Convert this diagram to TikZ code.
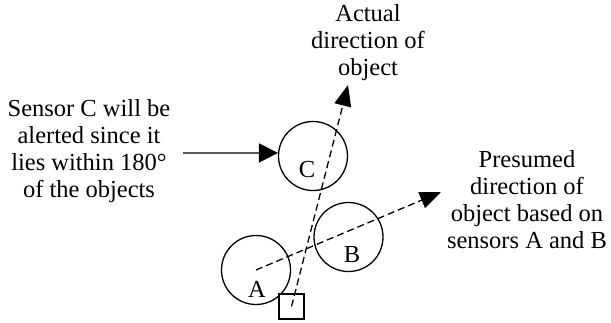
\documentclass[tikz,border=0pt]{standalone}
\usepackage{fontspec}
\setmainfont{Liberation Serif}
\usetikzlibrary{arrows.meta}
\begin{document}
\begin{tikzpicture}[x=1pt,y=-1pt,
  txt/.style={align=center,inner sep=0pt,anchor=base,font=\fontsize{24.5}{26.7}\selectfont},
  sensor/.style={draw,circle,line width=1.3pt,minimum size=69pt,inner sep=0pt},
  lbl/.style={inner sep=0pt,anchor=base,font=\fontsize{24.5}{26.7}\selectfont},
  dirarrow/.style={line width=1.3pt,dash pattern=on 7pt off 4pt,-{Triangle[length=21pt,width=17pt]}},
  solidarrow/.style={line width=1.4pt,-{Triangle[length=19pt,width=19pt]}}]
\path[use as bounding box] (0,0) rectangle (611,322);
\node[sensor] (C) at (313,156) {};
\node[sensor] (B) at (348.5,237) {};
\node[sensor] (A) at (256,270) {};
\node[draw,line width=1.3pt,minimum size=25pt,inner sep=0pt,fill=white] (S) at (291.5,306.5) {};
\node[lbl] (Cl) at (307,177) {C};
\node[lbl] (Bl) at (352,262) {B};
\node[lbl] (Al) at (257,297) {A};
\coordinate (actualtip) at (348,85);
\coordinate (presumedtip) at (441,192);
\draw[dirarrow] (S.center) -- (actualtip);
\draw[dirarrow] (A.center) -- (presumedtip);
\node[txt] (left) at (89,197) {Sensor C will be\\alerted since it\\lies within 180°\\of the objects};
\node[txt] (top) at (368,75) {Actual\\direction of\\object};
\node[txt] (right) at (527,248) {Presumed\\direction of\\object based on\\sensors A and B};
\coordinate (arrstart) at (183,153);
\draw[solidarrow] (arrstart) -- (C.175);
\end{tikzpicture}
\end{document}
